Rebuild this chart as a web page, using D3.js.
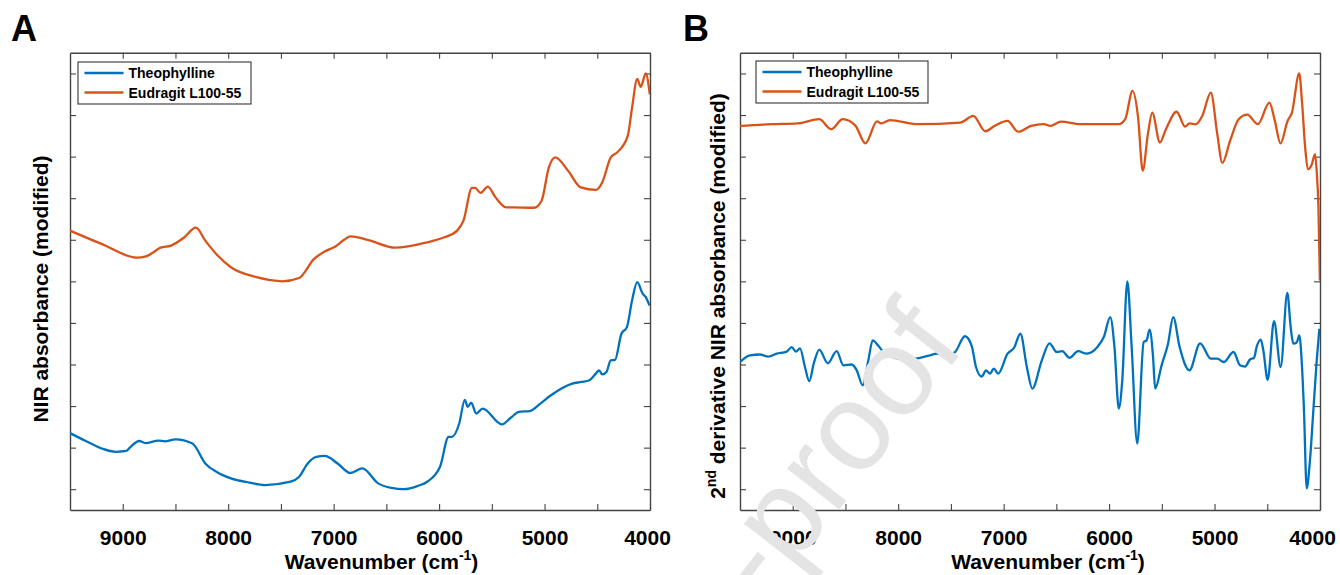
<!DOCTYPE html>
<html><head><meta charset="utf-8">
<script src="https://cdn.jsdelivr.net/npm/d3@7/dist/d3.min.js"></script>
<style>
body{margin:0;background:#fff}
text{font-family:"Liberation Sans", Arial, Helvetica, sans-serif}
</style>
</head><body>
<svg id="chart" width="1340" height="575"></svg>
<script>
// ---------- DATA ----------
const xTickValues = [9000, 8500, 8000, 7500, 7000, 6500, 6000, 5500, 5000, 4500, 4000];
const xTickLabelValues = [9000, 8000, 7000, 6000, 5000, 4000];
const yTickValues = [0, 1, 2, 3, 4, 5, 6, 7, 8, 9, 10];
const seriesNames = ["Theophylline", "Eudragit L100-55"];
const panelLetters = ["A", "B"];
const yTitles = ["NIR absorbance (modified)", "derivative NIR absorbance (modified)"];

// Panel A - Theophylline
const wnA_theo = [9500, 9350, 9200, 9067, 8966, 8925, 8844, 8784, 8662, 8602, 8500, 8339, 8217, 8100, 7974, 7800, 7651, 7408, 7327, 7246, 7165, 7084, 6963, 6841, 6728, 6578, 6450, 6335, 6200, 6113, 5991, 5910, 5878, 5809, 5756, 5728, 5696, 5647, 5587, 5404, 5320, 5243, 5141, 5040, 4939, 4737, 4650, 4575, 4514, 4482, 4453, 4413, 4372, 4332, 4271, 4219, 4170, 4121, 4069, 4040, 4005];
const absA_theo = [1.35, 1.16, 0.98, 0.90, 0.92, 1.02, 1.16, 1.11, 1.17, 1.15, 1.20, 1.10, 0.62, 0.40, 0.26, 0.16, 0.10, 0.18, 0.30, 0.62, 0.78, 0.80, 0.62, 0.39, 0.50, 0.14, 0.03, 0.00, 0.08, 0.18, 0.54, 1.26, 1.26, 1.58, 2.15, 1.98, 2.08, 1.82, 1.94, 1.56, 1.72, 1.86, 1.88, 2.06, 2.26, 2.54, 2.58, 2.62, 2.78, 2.86, 2.76, 2.82, 3.10, 3.11, 3.74, 3.90, 4.54, 4.98, 4.70, 4.62, 4.42];

// Panel A - Eudragit L100-55
const wnA_eud = [9500, 9200, 8865, 8780, 8720, 8642, 8541, 8420, 8306, 8217, 8100, 7974, 7731, 7600, 7489, 7327, 7185, 7084, 6983, 6900, 6841, 6679, 6416, 6113, 5950, 5829, 5769, 5688, 5659, 5607, 5538, 5465, 5364, 5303, 5101, 5028, 4959, 4898, 4777, 4656, 4514, 4453, 4372, 4312, 4211, 4170, 4121, 4088, 4040, 4002];
const absA_eud = [6.22, 5.90, 5.57, 5.60, 5.68, 5.81, 5.86, 6.05, 6.29, 5.98, 5.62, 5.34, 5.10, 5.03, 5.00, 5.08, 5.54, 5.72, 5.84, 6.00, 6.08, 6.00, 5.81, 5.94, 6.06, 6.22, 6.46, 7.25, 7.25, 7.13, 7.28, 7.02, 6.78, 6.78, 6.77, 6.94, 7.74, 7.98, 7.66, 7.26, 7.20, 7.38, 7.98, 8.10, 8.50, 9.18, 9.87, 9.68, 10.0, 9.50];

// Panel B - Theophylline (2nd derivative)
const wnB_theo = [9500, 9405, 9310, 9231, 9152, 9057, 9010, 8969, 8931, 8884, 8843, 8798, 8748, 8668, 8583, 8520, 8441, 8393, 8337, 8283, 8242, 8188, 8141, 8050, 7950, 7850, 7793, 7698, 7635, 7540, 7461, 7367, 7303, 7262, 7208, 7167, 7130, 7093, 7052, 6963, 6902, 6841, 6780, 6728, 6638, 6565, 6497, 6444, 6375, 6294, 6213, 6111, 6050, 5989, 5949, 5908, 5875, 5827, 5786, 5733, 5672, 5644, 5616, 5583, 5563, 5502, 5441, 5392, 5331, 5238, 5137, 5035, 4974, 4913, 4820, 4759, 4711, 4664, 4626, 4600, 4562, 4538, 4496, 4436, 4373, 4310, 4278, 4253, 4221, 4196, 4174, 4152, 4126, 4095, 4063, 4031, 4006];
const absB_theo = [3.06, 3.22, 3.24, 3.19, 3.26, 3.31, 3.42, 3.31, 3.39, 2.94, 2.60, 3.05, 3.36, 3.03, 3.32, 2.98, 3.00, 2.86, 2.50, 3.10, 3.58, 3.45, 3.30, 3.18, 3.12, 3.14, 3.16, 3.22, 3.26, 3.22, 3.30, 3.68, 3.45, 2.94, 2.71, 2.86, 2.78, 2.90, 2.78, 3.26, 3.40, 3.74, 2.94, 2.42, 3.10, 3.51, 3.30, 3.32, 3.16, 3.32, 3.26, 3.42, 3.66, 4.14, 3.42, 1.94, 2.62, 5.00, 3.42, 1.10, 3.54, 3.58, 3.84, 3.18, 2.42, 2.98, 3.50, 4.14, 3.42, 2.86, 3.51, 3.14, 3.14, 3.06, 3.30, 2.98, 2.95, 3.12, 3.16, 3.43, 3.60, 3.35, 2.63, 4.04, 2.94, 4.72, 3.90, 3.50, 3.53, 3.70, 3.10, 1.90, 0.02, 0.70, 1.90, 3.10, 3.86];

// Panel B - Eudragit L100-55 (2nd derivative)
const wnB_eud = [9500, 9200, 8952, 8749, 8635, 8526, 8404, 8311, 8201, 8161, 8079, 7815, 7410, 7288, 7174, 7085, 6963, 6862, 6740, 6618, 6557, 6456, 6273, 5908, 5847, 5778, 5725, 5681, 5632, 5591, 5518, 5461, 5360, 5279, 5238, 5177, 5116, 5035, 4974, 4926, 4853, 4771, 4690, 4589, 4480, 4428, 4375, 4307, 4266, 4197, 4170, 4140, 4111, 4080, 4047, 4030, 4015, 4001];
const absB_eud = [8.74, 8.78, 8.80, 8.90, 8.66, 8.90, 8.74, 8.32, 8.85, 8.80, 8.88, 8.78, 8.82, 8.98, 8.61, 8.74, 8.86, 8.60, 8.74, 8.78, 8.74, 8.84, 8.78, 8.78, 8.90, 9.58, 8.94, 7.66, 8.54, 9.06, 8.34, 8.66, 9.08, 8.72, 8.80, 8.78, 8.98, 9.54, 8.54, 7.85, 8.38, 8.90, 9.01, 8.78, 9.30, 8.86, 8.32, 8.86, 9.06, 10.0, 9.30, 8.20, 7.70, 7.80, 8.06, 7.60, 6.80, 5.02];

// ---------- DRAW ----------
const colors = ["#0072BD", "#D95319"];
const svg = d3.select("#chart");
const fontFam = '"Liberation Sans", Arial, Helvetica, sans-serif';
const axisColor = "#444";

const panels = [
  {left: 70, right: 650, top: 52.7, bottom: 510,
   series: [[wnA_theo, absA_theo], [wnA_eud, absA_eud]],
   legend: {x: 78, y: 62, w: 173, h: 42},
   letterX: 11, ytitleX: 48, ytitleY: 289, xtitleX: 381.5, sup2nd: false, lastLabelShift: -3},
  {left: 740, right: 1320, top: 52.7, bottom: 510,
   series: [[wnB_theo, absB_theo], [wnB_eud, absB_eud]],
   legend: {x: 756, y: 61, w: 172, h: 42},
   letterX: 683, ytitleX: 725, ytitleY: 296, xtitleX: 1048, sup2nd: true, lastLabelShift: -8}
];

panels.forEach((p, pi) => {
  const x = d3.scaleLinear().domain([9500, 4000]).range([p.left, p.right]);
  const y = d3.scaleLinear().domain([-0.5, 10.5]).range([p.bottom, p.top]);
  const g = svg.append("g");

  const cid = "clip" + pi;
  svg.append("clipPath").attr("id", cid).append("rect")
    .attr("x", p.left).attr("y", p.top).attr("width", p.right - p.left).attr("height", p.bottom - p.top);

  const bottomAxis = d3.axisBottom(x).tickValues(xTickValues).tickSizeInner(-6).tickSizeOuter(0)
    .tickFormat(d => xTickLabelValues.includes(d) ? String(d) : "").tickPadding(20);
  const gb = g.append("g").attr("transform", `translate(0,${p.bottom})`).call(bottomAxis);
  const topAxis = d3.axisTop(x).tickValues(xTickValues).tickSizeInner(-6).tickSizeOuter(0).tickFormat("");
  const gt = g.append("g").attr("transform", `translate(0,${p.top})`).call(topAxis);
  const leftAxis = d3.axisLeft(y).tickValues(yTickValues).tickSizeInner(-6).tickSizeOuter(0).tickFormat("");
  const gl = g.append("g").attr("transform", `translate(${p.left},0)`).call(leftAxis);
  const rightAxis = d3.axisRight(y).tickValues(yTickValues).tickSizeInner(-6).tickSizeOuter(0).tickFormat("");
  const gr = g.append("g").attr("transform", `translate(${p.right},0)`).call(rightAxis);
  [gb, gt, gl, gr].forEach(a => {
    a.select(".domain").attr("stroke", axisColor).attr("stroke-width", 1.4);
    a.selectAll(".tick line").attr("stroke", axisColor).attr("stroke-width", 1.1);
  });
  gb.selectAll(".tick text").attr("font-family", fontFam).attr("font-size", 21)
    .attr("font-weight", "bold").attr("fill", "#000")
    .attr("dx", d => d === 4000 ? p.lastLabelShift : 0);

  const line = d3.line().x(d => x(d[0])).y(d => y(d[1])).curve(d3.curveMonotoneX);
  p.series.forEach((s, si) => {
    const pts = s[0].map((w, i) => [w, s[1][i]]);
    g.append("path").datum(pts).attr("d", line).attr("fill", "none")
      .attr("stroke", colors[si]).attr("stroke-width", 2.3)
      .attr("stroke-linejoin", "round").attr("clip-path", `url(#${cid})`);
  });

  const L = p.legend;
  const lg = g.append("g");
  lg.append("rect").attr("x", L.x).attr("y", L.y).attr("width", L.w).attr("height", L.h)
    .attr("fill", "#fff").attr("stroke", "#333").attr("stroke-width", 1.1);
  seriesNames.forEach((n, i) => {
    const ly = L.y + 11 + i * 19.5;
    lg.append("line").attr("x1", L.x + 6.5).attr("x2", L.x + 45.5).attr("y1", ly).attr("y2", ly)
      .attr("stroke", colors[i]).attr("stroke-width", 2.3);
    lg.append("text").attr("x", L.x + 50.5).attr("y", ly + 5).text(n)
      .attr("font-size", 14).attr("font-weight", "bold").attr("fill", "#000");
  });

  svg.append("text").attr("x", p.letterX).attr("y", 40.5).text(panelLetters[pi])
    .attr("font-size", 36).attr("font-weight", "bold").attr("fill", "#000");

  const xt = svg.append("text").attr("x", p.xtitleX).attr("y", 569).attr("text-anchor", "middle")
    .attr("font-size", 21).attr("font-weight", "bold").attr("fill", "#000");
  xt.append("tspan").text("Wavenumber (cm");
  xt.append("tspan").attr("font-size", 14).attr("dy", -9).text("-1");
  xt.append("tspan").attr("dy", 9).text(")");

  const yt = svg.append("text").attr("transform", `translate(${p.ytitleX},${p.ytitleY}) rotate(-90)`)
    .attr("text-anchor", "middle").attr("font-size", 21).attr("font-weight", "bold").attr("fill", "#000");
  if (p.sup2nd) {
    yt.append("tspan").text("2");
    yt.append("tspan").attr("font-size", 14).attr("dy", -9).text("nd");
    yt.append("tspan").attr("dy", 9).text(" " + yTitles[pi]);
  } else {
    yt.append("tspan").text(yTitles[pi]);
  }
});

// watermark
svg.append("text").attr("transform", "translate(966.5,346.5) rotate(-52)")
  .attr("text-anchor", "end").attr("font-size", 125).attr("fill", "#e4e4e4")
  .attr("font-family", fontFam).text("Pre-proof");
</script>
</body></html>
